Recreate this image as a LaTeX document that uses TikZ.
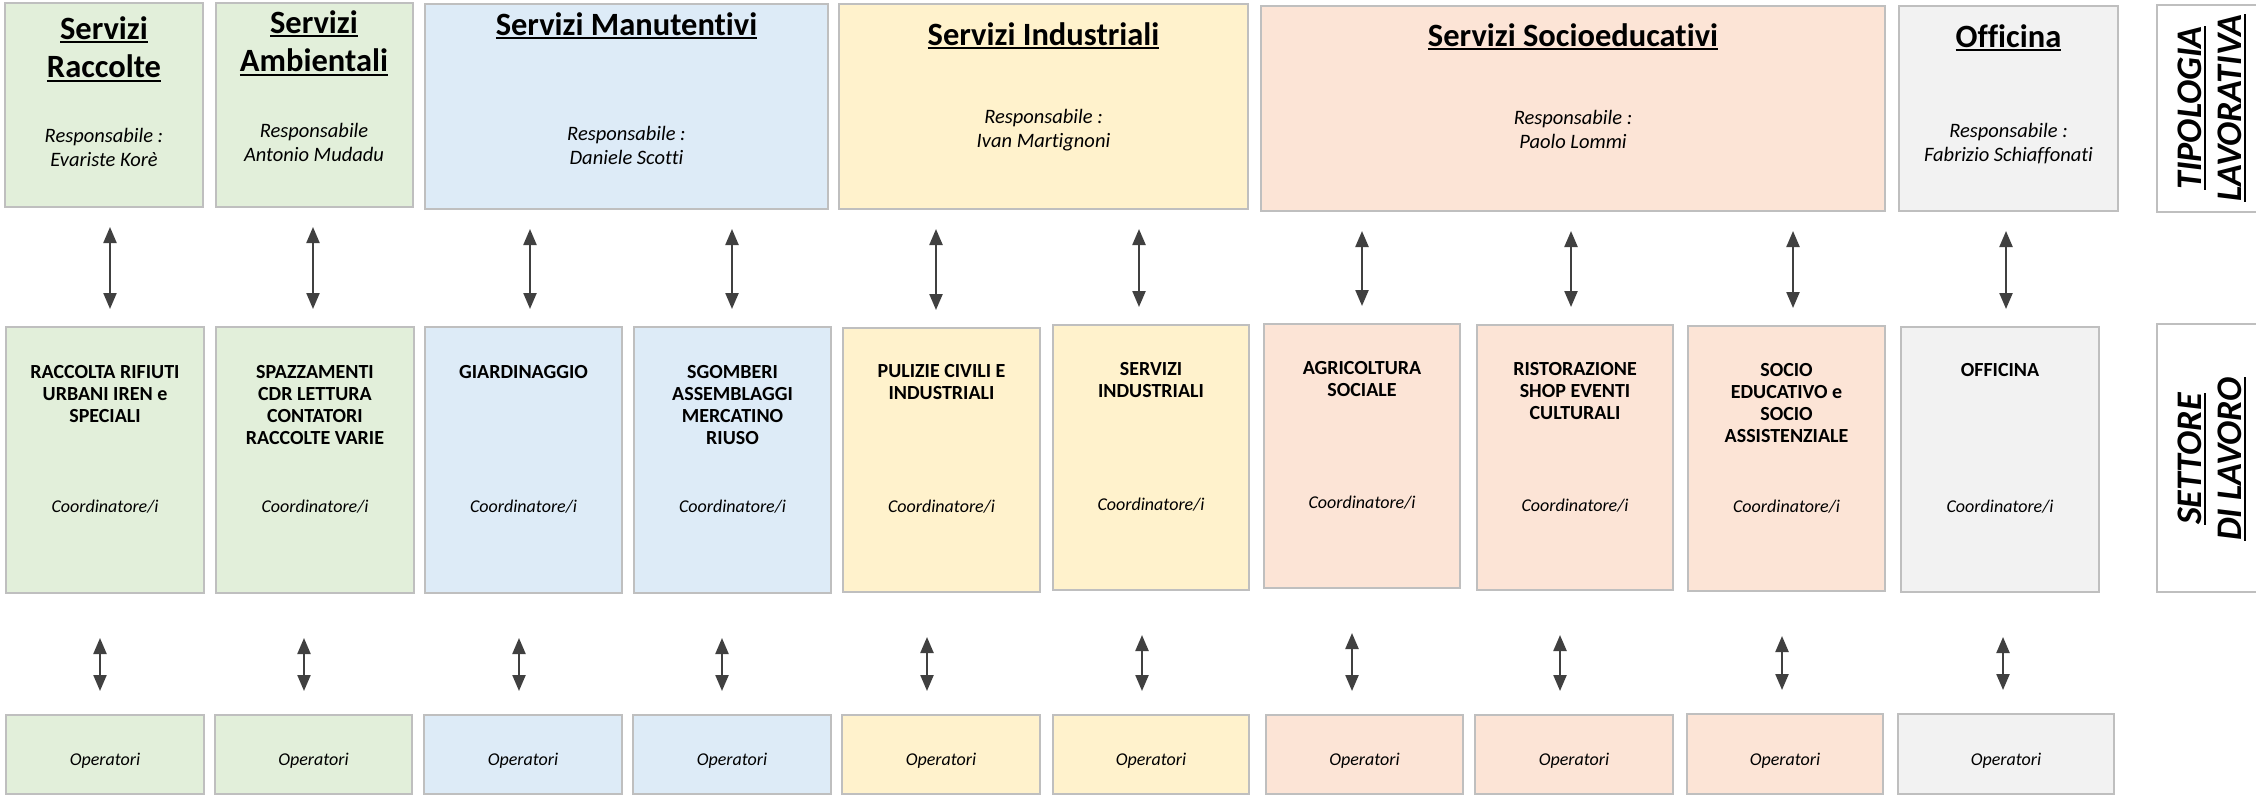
\documentclass[tikz,border=0pt]{standalone}
\usepackage{fontspec}
\setmainfont{Carlito}[Ligatures=NoCommon]
\usetikzlibrary{arrows.meta}
\definecolor{cgreen}{RGB}{226,239,218}
\definecolor{cblue}{RGB}{221,235,247}
\definecolor{cyellow}{RGB}{255,242,204}
\definecolor{cpeach}{RGB}{252,228,214}
\definecolor{cgray}{RGB}{242,242,242}
\definecolor{cborder}{RGB}{191,191,191}
\definecolor{carrow}{RGB}{64,64,64}
\newsavebox\ulbox
\newcommand\ulx[1]{\sbox\ulbox{#1}\rlap{\rule[-0.13em]{\wd\ulbox}{0.055em}}\usebox\ulbox}
\newcommand\stk[1]{\begin{tabular}[t]{@{}c@{}}#1\end{tabular}}
\tikzset{
  cell/.style={draw=cborder, line width=2.5pt, inner sep=0pt, outer sep=0pt},
  ttext/.style={anchor=base, inner sep=0pt, font=\bfseries\fontsize{32.5}{38.5}\selectfont},
  rtext/.style={anchor=base, inner sep=0pt, font=\itshape\fontsize{20.5}{24}\selectfont},
  mtext/.style={anchor=base, inner sep=0pt, font=\bfseries\fontsize{20}{22}\selectfont},
  ctext/.style={anchor=base, inner sep=0pt, font=\itshape\fontsize{18}{22}\selectfont},
  side/.style={anchor=base, inner sep=0pt, rotate=90, font=\bfseries\itshape\fontsize{36}{40}\selectfont},
  biarrow/.style={{Triangle[length=16pt,width=13pt]}-{Triangle[length=16pt,width=13pt]}, line width=2.2pt, draw=carrow},
}
\newcommand\cellbox[7]{% name, fill, x1, y1, x2, y2, unused
  \node[cell, fill=#2, minimum width={#5-#3}, minimum height={#6-#4}] (#1) at ({(#3+#5)/2},{(#4+#6)/2}) {};}
\begin{document}
\begin{tikzpicture}[x=1pt,y=-1pt]
\useasboundingbox (0,0) rectangle (2256,795);
\fill[white] (0,0) rectangle (2256,795);
% top row
\cellbox{t1}{cgreen}{5}{3}{203}{207}{}
\cellbox{t2}{cgreen}{216}{3}{413}{207}{}
\cellbox{t3}{cblue}{425}{4}{828}{209}{}
\cellbox{t4}{cyellow}{839}{4}{1248}{209}{}
\cellbox{t5}{cpeach}{1261}{6}{1885}{211}{}
\cellbox{t6}{cgray}{1899}{6}{2118}{211}{}
\cellbox{t7}{white}{2157}{5}{2272}{212}{}
% middle row
\cellbox{m1}{cgreen}{6}{327}{204}{593}{}
\cellbox{m2}{cgreen}{216}{327}{414}{593}{}
\cellbox{m3}{cblue}{425}{327}{622}{593}{}
\cellbox{m4}{cblue}{634}{327}{831}{593}{}
\cellbox{m5}{cyellow}{843}{328}{1040}{592}{}
\cellbox{m6}{cyellow}{1053}{325}{1249}{590}{}
\cellbox{m7}{cpeach}{1264}{324}{1460}{588}{}
\cellbox{m8}{cpeach}{1477}{325}{1673}{590}{}
\cellbox{m9}{cpeach}{1688}{326}{1885}{591}{}
\cellbox{m10}{cgray}{1901}{327}{2099}{592}{}
\cellbox{m11}{white}{2157}{324}{2272}{592}{}
% bottom row
\cellbox{b1}{cgreen}{6}{715}{204}{794}{}
\cellbox{b2}{cgreen}{215}{715}{412}{794}{}
\cellbox{b3}{cblue}{424}{715}{622}{794}{}
\cellbox{b4}{cblue}{633}{715}{831}{794}{}
\cellbox{b5}{cyellow}{842}{715}{1040}{794}{}
\cellbox{b6}{cyellow}{1053}{715}{1249}{794}{}
\cellbox{b7}{cpeach}{1266}{715}{1463}{794}{}
\cellbox{b8}{cpeach}{1475}{715}{1673}{794}{}
\cellbox{b9}{cpeach}{1687}{714}{1883}{794}{}
\cellbox{b10}{cgray}{1898}{714}{2114}{794}{}
% top texts
\node[ttext] (tt1) at (104,39) {\stk{\ulx{Servizi}\\\ulx{Raccolte}}};
\node[ttext] (tt2) at (314,33) {\stk{\ulx{Servizi}\\\ulx{Ambientali}}};
\node[ttext] (tt3) at (626.5,35) {\ulx{Servizi Manutentivi}};
\node[ttext] (tt4) at (1043.5,45) {\ulx{Servizi Industriali}};
\node[ttext] (tt5) at (1573,46) {\ulx{Servizi Socioeducativi}};
\node[ttext] (tt6) at (2008.5,47) {\ulx{Officina}};
\node[rtext] (rt1) at (104,142) {\stk{Responsabile :\\Evariste Korè}};
\node[rtext] (rt2) at (314,137) {\stk{Responsabile\\Antonio Mudadu}};
\node[rtext] (rt3) at (626.5,140) {\stk{Responsabile :\\Daniele Scotti}};
\node[rtext] (rt4) at (1043.5,123) {\stk{Responsabile :\\Ivan Martignoni}};
\node[rtext] (rt5) at (1573,124) {\stk{Responsabile :\\Paolo Lommi}};
\node[rtext] (rt6) at (2008.5,137) {\stk{Responsabile :\\Fabrizio Schiaffonati}};
\node[side] (st1) at (2201,108) {\stk{\ulx{TIPOLOGIA}\\\ulx{LAVORATIVA}}};
% middle texts
\node[mtext] (mt1) at (105,378) {\stk{RACCOLTA RIFIUTI\\URBANI IREN e\\SPECIALI}};
\node[mtext] (mt2) at (315,378) {\stk{SPAZZAMENTI\\CDR LETTURA\\CONTATORI\\RACCOLTE VARIE}};
\node[mtext] (mt3) at (523.5,378) {GIARDINAGGIO};
\node[mtext] (mt4) at (732.5,378) {\stk{SGOMBERI\\ASSEMBLAGGI\\MERCATINO\\RIUSO}};
\node[mtext] (mt5) at (941.5,377) {\stk{PULIZIE CIVILI E\\INDUSTRIALI}};
\node[mtext] (mt6) at (1151,375) {\stk{SERVIZI\\INDUSTRIALI}};
\node[mtext] (mt7) at (1362,374) {\stk{AGRICOLTURA\\SOCIALE}};
\node[mtext] (mt8) at (1575,375) {\stk{RISTORAZIONE\\SHOP EVENTI\\CULTURALI}};
\node[mtext] (mt9) at (1786.5,376) {\stk{SOCIO\\EDUCATIVO e\\SOCIO\\ASSISTENZIALE}};
\node[mtext] (mt10) at (2000,376) {OFFICINA};
\node[ctext] (ct1) at (105,512) {Coordinatore/i};
\node[ctext] (ct2) at (315,512) {Coordinatore/i};
\node[ctext] (ct3) at (523.5,512) {Coordinatore/i};
\node[ctext] (ct4) at (732.5,512) {Coordinatore/i};
\node[ctext] (ct5) at (941.5,512) {Coordinatore/i};
\node[ctext] (ct6) at (1151,510) {Coordinatore/i};
\node[ctext] (ct7) at (1362,508) {Coordinatore/i};
\node[ctext] (ct8) at (1575,511) {Coordinatore/i};
\node[ctext] (ct9) at (1786.5,512) {Coordinatore/i};
\node[ctext] (ct10) at (2000,512) {Coordinatore/i};
\node[side] (st2) at (2201,459) {\stk{\ulx{SETTORE}\\\ulx{DI LAVORO}}};
% bottom texts
\foreach \n/\x in {1/105,2/313.5,3/523,4/732,5/941,6/1151,7/1364.5,8/1574,9/1785,10/2006}
  \node[ctext] (ot\n) at (\x,765) {Operatori};
% arrow x positions
\foreach \n/\x in {1/110,2/313,3/530,4/732,5/936,6/1139,7/1362,8/1571,9/1793,10/2006}
  \coordinate (ua\n) at (\x,0);
\foreach \n/\x in {1/100,2/304,3/519,4/722,5/927,6/1142,7/1352,8/1560,9/1782,10/2003}
  \coordinate (la\n) at (\x,0);
% arrows top -> middle
\foreach \n/\t in {1/t1,2/t2,3/t3,4/t3,5/t4,6/t4,7/t5,8/t5,9/t5,10/t6}
  \draw[biarrow, shorten <=20pt, shorten >=18pt] (\t.south -| ua\n) -- (m\n.north -| ua\n);
% arrows middle -> bottom
\foreach \n in {1,...,10}
  \draw[biarrow, shorten <=45pt, shorten >=24pt] (m\n.south -| la\n) -- (b\n.north -| la\n);
\end{tikzpicture}
\end{document}
